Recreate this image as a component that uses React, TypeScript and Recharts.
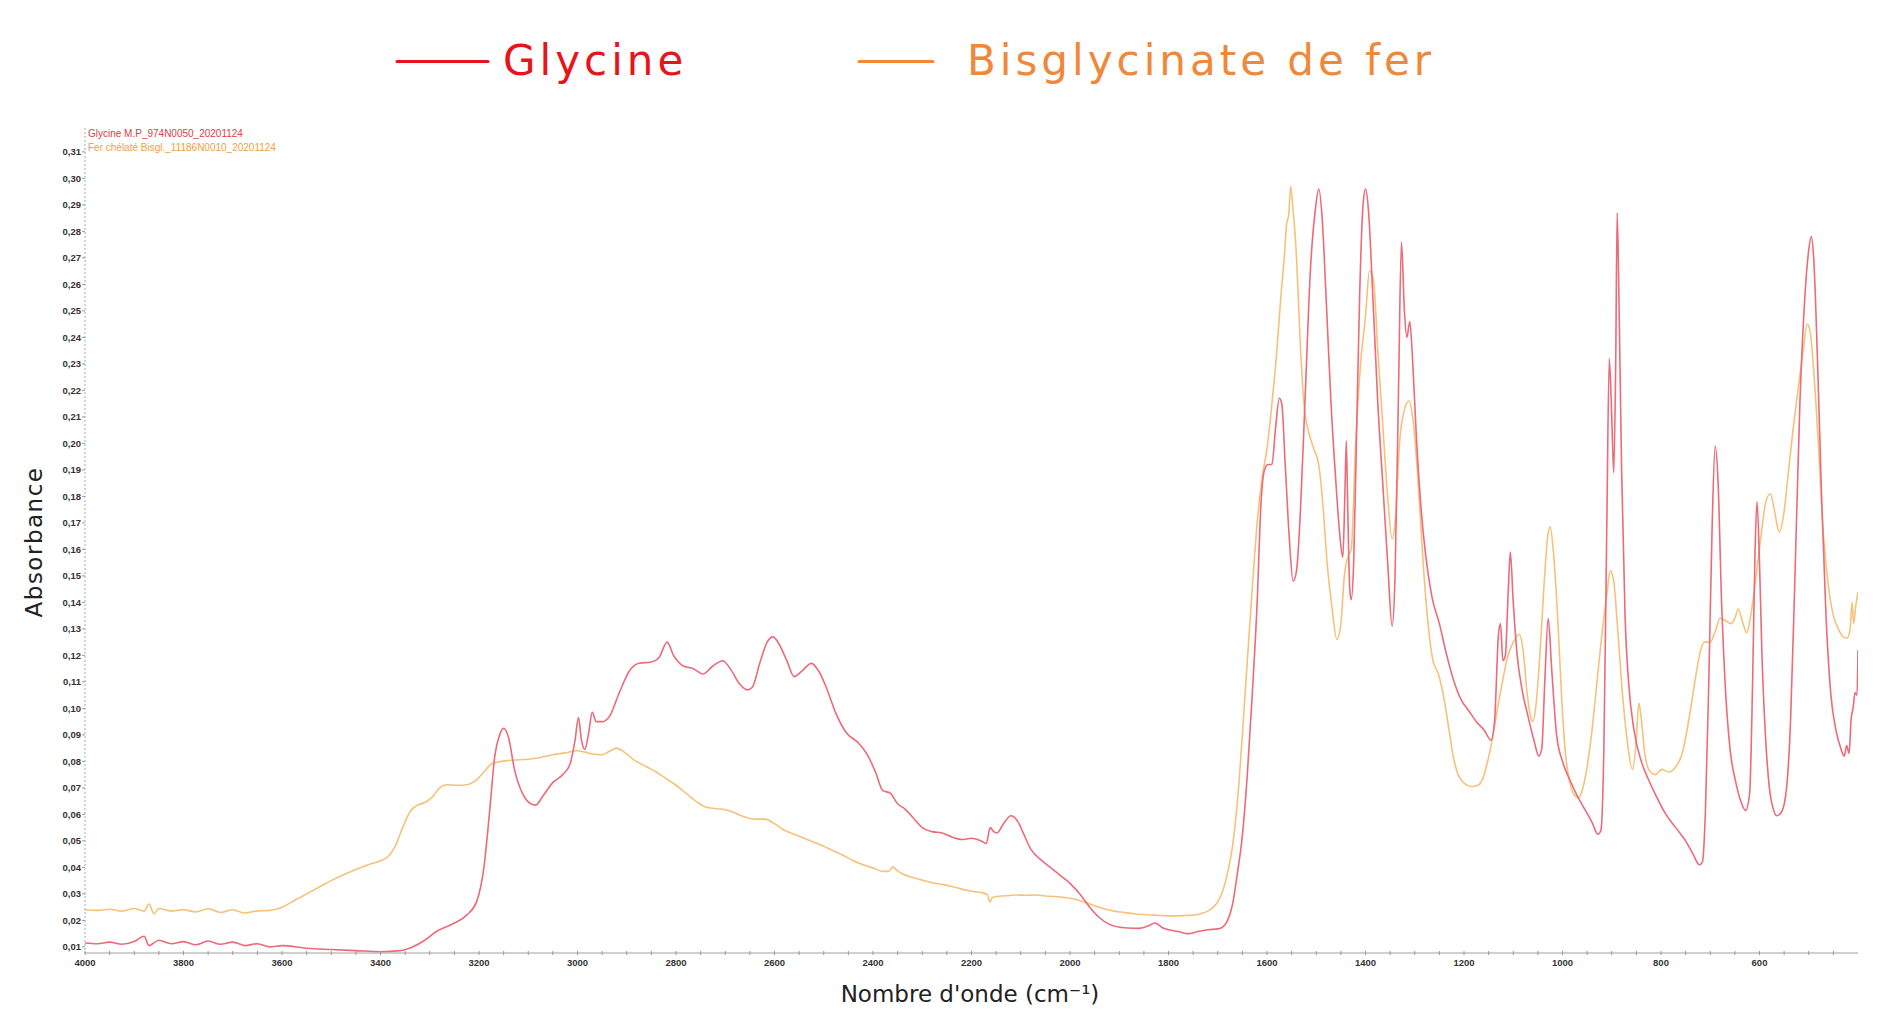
import React from "react";
import { LineChart, Line, XAxis, YAxis } from "recharts";

// [wavenumber (cm-1), absorbance]
const glycineSpectrum: [number, number][] = [
  [4000, 0.0115], [3975, 0.0112], [3950, 0.0118], [3925, 0.011], [3900, 0.012], [3880, 0.014], [3870, 0.0105],
  [3850, 0.0125], [3825, 0.0112], [3800, 0.012], [3775, 0.0108], [3750, 0.0122], [3725, 0.011], [3700, 0.0118],
  [3675, 0.0105], [3650, 0.0112], [3625, 0.01], [3600, 0.0105], [3550, 0.0095], [3500, 0.009], [3450, 0.0086],
  [3400, 0.0082], [3360, 0.0086], [3335, 0.01], [3310, 0.0125], [3285, 0.016], [3250, 0.019], [3225, 0.022],
  [3205, 0.027], [3190, 0.04], [3178, 0.062], [3168, 0.082], [3158, 0.09], [3150, 0.0925], [3140, 0.089],
  [3128, 0.077], [3112, 0.068], [3095, 0.064], [3085, 0.0635], [3070, 0.067], [3050, 0.072], [3030, 0.075],
  [3015, 0.079], [3005, 0.088], [2998, 0.0965], [2992, 0.088], [2985, 0.0845], [2978, 0.09], [2970, 0.0985],
  [2962, 0.095], [2950, 0.095], [2935, 0.097], [2915, 0.106], [2895, 0.114], [2875, 0.117], [2850, 0.1175],
  [2835, 0.119], [2818, 0.125], [2805, 0.12], [2785, 0.116], [2765, 0.115], [2745, 0.113], [2725, 0.116],
  [2705, 0.118], [2690, 0.115], [2670, 0.109], [2655, 0.107], [2645, 0.108], [2630, 0.117], [2615, 0.125],
  [2603, 0.127], [2590, 0.124], [2575, 0.118], [2560, 0.112], [2545, 0.114], [2525, 0.117], [2510, 0.114],
  [2495, 0.108], [2475, 0.098], [2455, 0.091], [2430, 0.087], [2410, 0.082], [2395, 0.076], [2380, 0.069],
  [2365, 0.068], [2350, 0.064], [2335, 0.062], [2315, 0.058], [2300, 0.055], [2280, 0.0535], [2260, 0.053],
  [2240, 0.0515], [2220, 0.0505], [2200, 0.051], [2180, 0.05], [2170, 0.049], [2162, 0.055], [2155, 0.0535],
  [2148, 0.053], [2135, 0.0565], [2120, 0.0595], [2105, 0.057], [2095, 0.053], [2080, 0.047], [2060, 0.043],
  [2040, 0.04], [2020, 0.037], [2000, 0.034], [1980, 0.03], [1960, 0.025], [1940, 0.021], [1920, 0.0185],
  [1890, 0.0172], [1860, 0.017], [1840, 0.018], [1828, 0.019], [1810, 0.017], [1780, 0.0158], [1760, 0.015],
  [1740, 0.0158], [1720, 0.0165], [1700, 0.0168], [1690, 0.0175], [1680, 0.02], [1670, 0.026], [1660, 0.038],
  [1650, 0.052], [1640, 0.075], [1630, 0.105], [1620, 0.14], [1612, 0.178], [1605, 0.19], [1598, 0.192],
  [1590, 0.192], [1583, 0.205], [1575, 0.217], [1570, 0.215], [1563, 0.192], [1555, 0.165], [1547, 0.148],
  [1540, 0.152], [1532, 0.175], [1522, 0.22], [1512, 0.265], [1502, 0.288], [1495, 0.296], [1488, 0.285],
  [1480, 0.255], [1470, 0.215], [1460, 0.185], [1452, 0.165], [1446, 0.157], [1442, 0.18], [1439, 0.201],
  [1436, 0.175], [1432, 0.145], [1429, 0.141], [1424, 0.155], [1418, 0.205], [1412, 0.255], [1405, 0.29],
  [1400, 0.296], [1394, 0.288], [1385, 0.255], [1375, 0.215], [1365, 0.185], [1355, 0.155], [1346, 0.131],
  [1340, 0.15], [1333, 0.22], [1327, 0.276], [1321, 0.25], [1316, 0.24], [1310, 0.246], [1304, 0.23],
  [1296, 0.2], [1287, 0.175], [1278, 0.158], [1265, 0.142], [1250, 0.132], [1235, 0.12], [1220, 0.11],
  [1205, 0.103], [1190, 0.099], [1175, 0.095], [1160, 0.092], [1145, 0.088], [1138, 0.095], [1130, 0.128],
  [1126, 0.132], [1121, 0.118], [1116, 0.12], [1110, 0.145], [1106, 0.159], [1100, 0.14], [1092, 0.12],
  [1082, 0.107], [1070, 0.097], [1058, 0.088], [1048, 0.082], [1042, 0.085], [1036, 0.11], [1029, 0.134],
  [1022, 0.115], [1012, 0.09], [1000, 0.08], [985, 0.073], [970, 0.067], [955, 0.062], [940, 0.057],
  [928, 0.0525], [922, 0.054], [916, 0.085], [910, 0.17], [905, 0.232], [900, 0.21], [896, 0.189],
  [892, 0.23], [889, 0.287], [885, 0.25], [880, 0.19], [873, 0.135], [865, 0.108], [855, 0.092], [840, 0.08],
  [825, 0.073], [810, 0.067], [790, 0.06], [770, 0.055], [750, 0.05], [735, 0.045], [722, 0.041], [716, 0.042],
  [710, 0.06], [703, 0.11], [696, 0.17], [690, 0.199], [684, 0.185], [677, 0.14], [670, 0.11], [660, 0.085],
  [648, 0.072], [638, 0.065], [628, 0.0615], [620, 0.068], [614, 0.11], [609, 0.16], [605, 0.178], [600, 0.155],
  [595, 0.12], [588, 0.09], [580, 0.07], [572, 0.062], [565, 0.0595], [555, 0.061], [545, 0.07], [537, 0.095],
  [528, 0.15], [518, 0.215], [508, 0.255], [500, 0.273], [495, 0.278], [490, 0.27], [482, 0.23], [474, 0.18],
  [465, 0.135], [455, 0.105], [445, 0.092], [435, 0.085], [428, 0.082], [423, 0.086], [418, 0.083],
  [414, 0.096], [410, 0.1], [406, 0.106], [402, 0.105], [400, 0.122],
];

const bisglycinateSpectrum: [number, number][] = [
  [4000, 0.024], [3975, 0.0238], [3950, 0.0242], [3925, 0.0235], [3900, 0.0245], [3880, 0.0235], [3870, 0.0262],
  [3860, 0.0225], [3850, 0.0245], [3825, 0.0236], [3800, 0.024], [3775, 0.0232], [3750, 0.0244], [3725, 0.023],
  [3700, 0.024], [3675, 0.0228], [3650, 0.0236], [3625, 0.0238], [3600, 0.025], [3575, 0.0275], [3550, 0.03],
  [3525, 0.0325], [3500, 0.035], [3475, 0.0372], [3450, 0.0392], [3425, 0.041], [3400, 0.0425], [3385, 0.044],
  [3370, 0.048], [3355, 0.055], [3340, 0.061], [3325, 0.0635], [3310, 0.0645], [3295, 0.0665], [3280, 0.07],
  [3265, 0.0712], [3245, 0.071], [3225, 0.0712], [3205, 0.073], [3190, 0.076], [3175, 0.079], [3155, 0.08],
  [3130, 0.0805], [3100, 0.0808], [3075, 0.0815], [3050, 0.0825], [3025, 0.0832], [3000, 0.084], [2985, 0.0835],
  [2970, 0.0828], [2950, 0.0825], [2935, 0.0838], [2920, 0.085], [2905, 0.0835], [2885, 0.0805], [2860, 0.078],
  [2840, 0.076], [2820, 0.0735], [2800, 0.071], [2780, 0.068], [2760, 0.065], [2740, 0.0628], [2720, 0.0622],
  [2700, 0.0618], [2680, 0.0605], [2660, 0.059], [2640, 0.0582], [2620, 0.0582], [2600, 0.0565], [2580, 0.054],
  [2560, 0.0525], [2540, 0.051], [2520, 0.0495], [2500, 0.048], [2480, 0.0462], [2460, 0.0445], [2440, 0.0425],
  [2420, 0.041], [2400, 0.0398], [2380, 0.0385], [2368, 0.0385], [2360, 0.0402], [2352, 0.039], [2340, 0.0375],
  [2320, 0.0362], [2300, 0.0352], [2280, 0.0342], [2260, 0.0336], [2240, 0.0328], [2220, 0.0318], [2200, 0.031],
  [2180, 0.0305], [2168, 0.0298], [2163, 0.027], [2158, 0.0285], [2150, 0.029], [2130, 0.0293], [2110, 0.0296],
  [2090, 0.0295], [2070, 0.0296], [2050, 0.0292], [2030, 0.029], [2010, 0.0286], [1990, 0.028], [1970, 0.0268],
  [1950, 0.0255], [1930, 0.0243], [1910, 0.0235], [1890, 0.023], [1870, 0.0225], [1850, 0.0222], [1830, 0.022],
  [1810, 0.0218], [1790, 0.0217], [1770, 0.0218], [1750, 0.022], [1735, 0.0225], [1720, 0.0235], [1710, 0.0248],
  [1700, 0.027], [1690, 0.031], [1680, 0.038], [1670, 0.048], [1660, 0.065], [1650, 0.09], [1640, 0.118],
  [1630, 0.145], [1620, 0.17], [1610, 0.187], [1600, 0.198], [1590, 0.215], [1580, 0.235], [1572, 0.255],
  [1565, 0.27], [1560, 0.283], [1556, 0.286], [1552, 0.297], [1547, 0.288], [1540, 0.27], [1533, 0.24],
  [1525, 0.215], [1515, 0.204], [1505, 0.198], [1495, 0.192], [1487, 0.178], [1478, 0.155], [1468, 0.138],
  [1458, 0.126], [1450, 0.132], [1443, 0.15], [1436, 0.157], [1429, 0.16], [1420, 0.2], [1410, 0.23],
  [1400, 0.248], [1392, 0.265], [1384, 0.262], [1375, 0.235], [1365, 0.207], [1355, 0.18], [1346, 0.164],
  [1339, 0.172], [1331, 0.2], [1322, 0.212], [1312, 0.216], [1303, 0.208], [1293, 0.185], [1283, 0.155],
  [1273, 0.132], [1263, 0.118], [1252, 0.113], [1243, 0.106], [1233, 0.095], [1222, 0.082], [1212, 0.075],
  [1200, 0.0718], [1185, 0.0705], [1172, 0.071], [1162, 0.0735], [1152, 0.08], [1142, 0.089], [1132, 0.1],
  [1122, 0.11], [1112, 0.119], [1100, 0.125], [1088, 0.128], [1080, 0.122], [1072, 0.106], [1065, 0.097],
  [1060, 0.095], [1054, 0.101], [1046, 0.12], [1038, 0.145], [1030, 0.165], [1025, 0.1685], [1018, 0.158],
  [1010, 0.135], [1002, 0.105], [994, 0.083], [985, 0.072], [975, 0.067], [968, 0.0662], [960, 0.069],
  [950, 0.078], [940, 0.092], [930, 0.11], [920, 0.128], [910, 0.143], [903, 0.152], [896, 0.148], [888, 0.13],
  [878, 0.105], [868, 0.087], [858, 0.077], [851, 0.086], [845, 0.102], [840, 0.096], [833, 0.083], [825, 0.077],
  [812, 0.075], [798, 0.077], [785, 0.076], [770, 0.078], [757, 0.083], [745, 0.094], [733, 0.108], [722, 0.12],
  [712, 0.125], [700, 0.125], [690, 0.129], [680, 0.134], [668, 0.133], [658, 0.132], [650, 0.134],
  [643, 0.1375], [635, 0.133], [626, 0.1285], [617, 0.136], [607, 0.15], [597, 0.165], [587, 0.178],
  [578, 0.181], [570, 0.175], [560, 0.1665], [551, 0.173], [542, 0.188], [532, 0.205], [522, 0.22], [512, 0.234],
  [503, 0.245], [497, 0.242], [489, 0.225], [480, 0.198], [470, 0.165], [460, 0.146], [450, 0.135], [440, 0.13],
  [430, 0.127], [422, 0.1265], [416, 0.13], [412, 0.14], [409, 0.132], [405, 0.138], [400, 0.144],
];

const seriesNames = ["Glycine", "Bisglycinate de fer"];
const fileLabels = ["Glycine M.P_974N0050_20201124", "Fer chélaté Bisgl._11186N0010_20201124"];
const xMajorTicks = [4000, 3800, 3600, 3400, 3200, 3000, 2800, 2600, 2400, 2200, 2000, 1800, 1600, 1400, 1200, 1000, 800, 600];
const xMinorStep = 50;
const yTicks = [
  0.01, 0.02, 0.03, 0.04, 0.05, 0.06, 0.07, 0.08, 0.09, 0.1, 0.11, 0.12, 0.13, 0.14, 0.15, 0.16,
  0.17, 0.18, 0.19, 0.2, 0.21, 0.22, 0.23, 0.24, 0.25, 0.26, 0.27, 0.28, 0.29, 0.3, 0.31,
];

const xAllTicks: number[] = [];
for (let v = 4000; v >= 450; v -= xMinorStep) xAllTicks.push(v);

const glycineData = glycineSpectrum.map(([wn, a]) => ({ wn, a }));
const bisData = bisglycinateSpectrum.map(([wn, a]) => ({ wn, a }));

const tickFont = "'Liberation Sans', Arial, sans-serif";
const titleFont = "'DejaVu Sans', sans-serif";

const XTick = (props: any) => {
  const { x, y, payload } = props;
  const v = payload.value;
  const major = xMajorTicks.includes(v);
  return (
    <g>
      <line x1={x} x2={x} y1={y - 2} y2={y + 2} stroke="#999" strokeWidth={1} />
      {major && (
        <text x={x} y={y + 13} textAnchor="middle" fontSize={9.5} fontWeight="bold" fill="#333" fontFamily={tickFont}>
          {v}
        </text>
      )}
    </g>
  );
};

export default function App() {
  return (
    <div style={{ position: "absolute", left: 0, top: 0, width: 1900, height: 1030, background: "#fff" }}>
      <LineChart width={1900} height={1030} margin={{ top: 128, right: 42, bottom: 47, left: 40 }}>
        <XAxis
          type="number"
          dataKey="wn"
          domain={[400, 4000]}
          reversed
          allowDataOverflow
          ticks={xAllTicks}
          interval={0}
          tick={<XTick />}
          tickLine={false}
          tickSize={0}
          tickMargin={0}
          height={30}
          axisLine={{ stroke: "#a0a0a0", strokeWidth: 1 }}
        />
        <YAxis
          type="number"
          domain={[0.0077, 0.319]}
          allowDataOverflow
          ticks={yTicks}
          interval={0}
          width={45}
          tickSize={3}
          tickMargin={1}
          tickLine={{ stroke: "#999" }}
          axisLine={{ stroke: "#a8a8a8", strokeDasharray: "2 2" }}
          tick={{ fontSize: 9.5, fontWeight: "bold", fill: "#333", fontFamily: tickFont }}
          tickFormatter={(v: number) => v.toFixed(2).replace(".", ",")}
        />
        <Line
          data={bisData}
          dataKey="a"
          type="monotone"
          stroke="#f5c27c"
          strokeWidth={1.6}
          dot={false}
          isAnimationActive={false}
        />
        <Line
          data={glycineData}
          dataKey="a"
          type="monotone"
          stroke="#ec6b79"
          strokeWidth={1.6}
          dot={false}
          isAnimationActive={false}
        />
      </LineChart>
      <svg width={1900} height={1030} style={{ position: "absolute", left: 0, top: 0, pointerEvents: "none" }}>
        <line x1={397} x2={488} y1={61.5} y2={61.5} stroke="#e8141c" strokeWidth={3} strokeLinecap="round" />
        <text x={503} y={75} fontSize={42} letterSpacing={4} fill="#e8141c" fontFamily={titleFont}>
          {seriesNames[0]}
        </text>
        <line x1={859} x2={933} y1={61.5} y2={61.5} stroke="#f0883a" strokeWidth={3} strokeLinecap="round" />
        <text x={967} y={75} fontSize={42} letterSpacing={4} fill="#f0883a" fontFamily={titleFont}>
          {seriesNames[1]}
        </text>
        <text x={88} y={136.5} fontSize={10} fill="#e23a48" fontFamily={tickFont}>
          {fileLabels[0]}
        </text>
        <text x={88} y={150.5} fontSize={10} fill="#f0a040" fontFamily={tickFont}>
          {fileLabels[1]}
        </text>
        <text
          x={34}
          y={542}
          fontSize={23}
          letterSpacing={1.5}
          fill="#222"
          fontFamily={titleFont}
          textAnchor="middle"
          dominantBaseline="central"
          transform="rotate(-90 34 542)"
        >
          Absorbance
        </text>
        <text x={970} y={1002} fontSize={23} fill="#222" fontFamily={titleFont} textAnchor="middle">
          Nombre d'onde (cm⁻¹)
        </text>
      </svg>
    </div>
  );
}
